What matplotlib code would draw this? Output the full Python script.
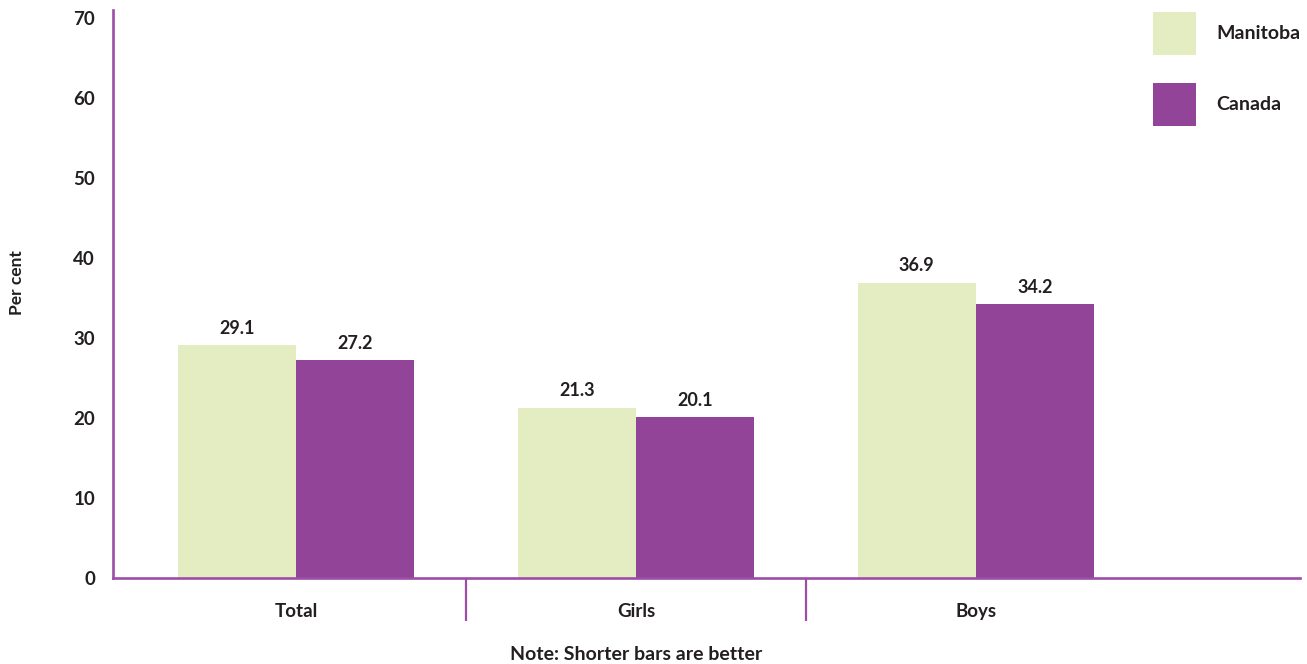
import numpy as np
import matplotlib.pyplot as plt

plt.rcParams['font.family'] = ['Lato', 'DejaVu Sans']
plt.rcParams['font.weight'] = 'bold'

categories = ['Total', 'Girls', 'Boys']
manitoba = [29.1, 21.3, 36.9]
canada = [27.2, 20.1, 34.2]
series_names = ['Manitoba', 'Canada']

green = '#E4ECC2'
purple = '#924499'
axis_col = '#9C4DA7'
text_col = '#231F20'

fig = plt.figure(figsize=(13.07, 6.64), dpi=100, facecolor='white')
ax = fig.add_axes([0.0865, 0.1295, 0.908, 0.8555])

x = np.arange(len(categories))
w = 0.348
b1 = ax.bar(x - w / 2, manitoba, w, color=green, label=series_names[0], zorder=2)
b2 = ax.bar(x + w / 2, canada, w, color=purple, label=series_names[1], zorder=2)

# value labels above each bar
for bars, vals in ((b1, manitoba), (b2, canada)):
    for r, v in zip(bars, vals):
        ax.annotate(f'{v:.1f}', (r.get_x() + r.get_width() / 2, v),
                    xytext=(0, 6), textcoords='offset points',
                    ha='center', va='bottom', fontsize=13,
                    fontweight='bold', color=text_col)

ax.set_xlim(-0.538, 2.953)
ax.set_ylim(0, 71)
ax.set_yticks(range(0, 71, 10))
ax.tick_params(axis='y', length=0, pad=13, labelsize=13.5, labelcolor=text_col)

# category names centered, group dividers as long minor ticks
ax.set_xticks(x)
ax.set_xticklabels(categories)
ax.set_xticks([0.5, 1.5], minor=True)
ax.tick_params(axis='x', which='major', length=0, pad=18, labelsize=13.5,
               labelcolor=text_col)
ax.tick_params(axis='x', which='minor', length=31, width=1.6,
               color=axis_col, direction='out')

for s in ('top', 'right'):
    ax.spines[s].set_visible(False)
for s in ('left', 'bottom'):
    ax.spines[s].set_color(axis_col)
    ax.spines[s].set_linewidth(1.9)

ax.set_ylabel('Per cent', fontsize=12.5, fontweight='bold', color=text_col)
ax.yaxis.set_label_coords(-0.0745, 0.52)

leg = ax.legend(loc='upper left', bbox_to_anchor=(0.876, 0.997), frameon=False,
                fontsize=14, handlelength=2.21, handleheight=3.03,
                labelspacing=1.43, handletextpad=1.07, borderaxespad=0,
                borderpad=0)
for t in leg.get_texts():
    t.set_color(text_col)

fig.text(0.4865, 0.002, 'Note: Shorter bars are better', ha='center',
         va='bottom', fontsize=14, fontweight='bold', color=text_col)

fig.savefig('out.png', dpi=100)
